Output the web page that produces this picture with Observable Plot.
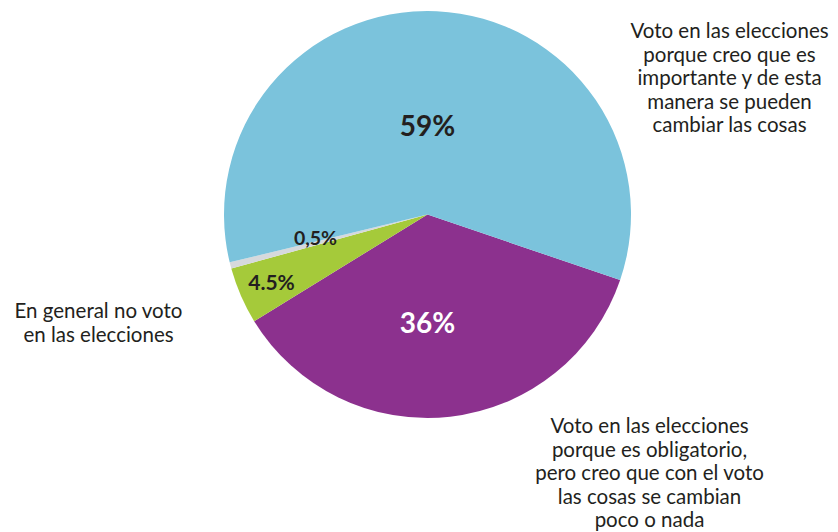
<!DOCTYPE html>
<html>
<head>
<meta charset="utf-8">
<script src="https://cdn.jsdelivr.net/npm/d3@7"></script>
<script src="https://cdn.jsdelivr.net/npm/@observablehq/plot@0.6"></script>
<style>
  html, body { margin: 0; padding: 0; background: #fff; }
  #chart { width: 838px; height: 532px; }
</style>
</head>
<body>
<div id="chart"></div>
<script>
// Data (clockwise order starting at the purple slice)
const categories = [
  "Voto en las elecciones porque es obligatorio, pero creo que con el voto las cosas se cambian poco o nada",
  "En general no voto en las elecciones",
  "Sin respuesta",
  "Voto en las elecciones porque creo que es importante y de esta manera se pueden cambiar las cosas"
];
const values = [36, 4.5, 0.5, 59];
const valueLabels = ["36%", "4.5%", "0,5%", "59%"];
const colors = ["#8C318E", "#A5CA3A", "#D6D9DC", "#7BC3DC"];
const outerLabels = [
  "Voto en las elecciones\nporque es obligatorio,\npero creo que con el voto\nlas cosas se cambian\npoco o nada",
  "En general no voto\nen las elecciones",
  "",
  "Voto en las elecciones\nporque creo que es\nimportante y de esta\nmanera se pueden\ncambiar las cosas"
];

const slices = categories.map((c, i) => ({category: c, value: values[i], label: valueLabels[i], color: colors[i], outer: outerLabels[i]}));

// layout (pixel space)
const W = 838, H = 532;
const cx = 427.5, cy = 214.5, R = 203.5;
const startDeg = 108.8;
const pctPos = [
  {x: 427, y: 324, size: 28, fill: "#ffffff"},
  {x: 271, y: 283, size: 21, fill: "#231F20"},
  {x: 315, y: 238, size: 19.5, fill: "#231F20"},
  {x: 427, y: 127, size: 28, fill: "#231F20"}
];
const outerPos = [
  {x: 649, y: 472},
  {x: 98, y: 322},
  null,
  {x: 729, y: 77}
];

const pieGen = d3.pie().sort(null).value(d => d.value)
  .startAngle(startDeg * Math.PI / 180)
  .endAngle(startDeg * Math.PI / 180 + 2 * Math.PI);
const arcs = pieGen(slices);

const pctData = slices.map((s, i) => ({...s, ...pctPos[i]}));
const outerData = slices.map((s, i) => outerPos[i] ? ({...s, ...outerPos[i]}) : null).filter(d => d && d.outer);

function pieMark(index, scales) {
  const x0 = scales.x(cx), y0 = scales.y(cy);
  const r = scales.x(cx + R) - scales.x(cx);
  const arcGen = d3.arc().innerRadius(0).outerRadius(r);
  const g = d3.create("svg:g").attr("transform", `translate(${x0},${y0})`);
  g.selectAll("path").data(arcs).join("path")
    .attr("d", arcGen)
    .attr("fill", d => d.data.color);
  return g.node();
}

const font = "Lato, 'Open Sans', sans-serif";

const chart = Plot.plot({
  width: W,
  height: H,
  margin: 0,
  x: {domain: [0, W], range: [0, W], axis: null},
  y: {domain: [0, H], range: [0, H], axis: null},
  style: {fontFamily: font, background: "#fff"},
  marks: [
    pieMark,
    Plot.text(pctData.filter(d => d.size >= 28), {
      x: "x", y: "y", text: "label", fill: d => d.fill,
      fontSize: 28, fontWeight: "bold", fontFamily: font
    }),
    Plot.text(pctData.filter(d => d.size < 28), {
      x: "x", y: "y", text: "label", fill: d => d.fill,
      fontSize: d => d.size, fontWeight: "bold", fontFamily: font
    }),
    Plot.text(outerData, {
      x: "x", y: "y", text: "outer", fill: "#231F20",
      fontSize: 20.5, lineHeight: 1.146, fontFamily: font
    })
  ]
});
document.getElementById("chart").appendChild(chart);
</script>
</body>
</html>
